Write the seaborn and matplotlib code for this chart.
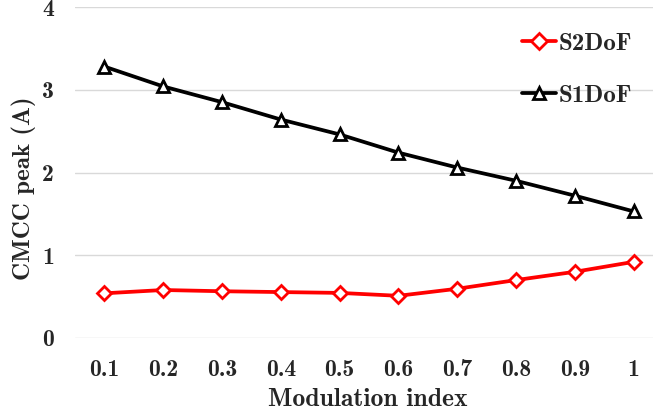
import matplotlib
matplotlib.use("Agg")
import matplotlib.pyplot as plt
import seaborn as sns
import pandas as pd

# Modulation index categories and CMCC peak currents (A)
mod_index = ["0.1", "0.2", "0.3", "0.4", "0.5", "0.6", "0.7", "0.8", "0.9", "1"]
s2dof = [0.54, 0.58, 0.565, 0.555, 0.545, 0.51, 0.595, 0.70, 0.80, 0.92]
s1dof = [3.28, 3.04, 2.85, 2.64, 2.46, 2.24, 2.06, 1.90, 1.72, 1.53]
y_ticks = [0, 1, 2, 3, 4]

df = pd.DataFrame({
    "Modulation index": mod_index * 2,
    "CMCC peak (A)": s2dof + s1dof,
    "Scheme": ["S2DoF"] * len(mod_index) + ["S1DoF"] * len(mod_index),
})

sns.set_theme(style="white")
plt.rcParams["font.family"] = ["cmb10", "DejaVu Serif"]
plt.rcParams["axes.unicode_minus"] = False

W, H = 653, 417
fig = plt.figure(figsize=(W / 100, H / 100), dpi=100)
ax = fig.add_axes([75 / W, (H - 338) / H, 588 / W, 331 / H])

sns.lineplot(
    data=df, x="Modulation index", y="CMCC peak (A)",
    hue="Scheme", style="Scheme",
    palette={"S2DoF": "#ff0000", "S1DoF": "#000000"},
    markers={"S2DoF": "D", "S1DoF": "^"},
    dashes=False, linewidth=2.7, markersize=8,
    markerfacecolor="white", markeredgewidth=2.0,
    ax=ax,
)
# white fill with coloured edges for markers
for line in ax.get_lines():
    c = line.get_color()
    line.set_markeredgecolor(c)
    line.set_markerfacecolor("white")
ax.get_lines()[0].set_markersize(7)
ax.get_lines()[1].set_markersize(9)

ax.set_xlim(-0.5, len(mod_index) - 0.5)
ax.set_ylim(0, 4)
ax.set_yticks(y_ticks)
ax.set_yticklabels([str(t) for t in y_ticks])
ax.yaxis.grid(True, color="#d9d9d9", linewidth=1.0)
ax.xaxis.grid(False)
for s in ax.spines.values():
    s.set_visible(False)
ax.tick_params(axis="both", length=0, labelsize=17)
ax.tick_params(axis="y", pad=15)
ax.tick_params(axis="x", pad=15)
ax.set_xlabel("Modulation index", fontsize=18.5)
ax.set_ylabel("CMCC peak (A)", fontsize=18)
# label placement in axes-fraction coordinates
ax.xaxis.set_label_coords((368 - 75) / 588, -(399 - 338) / 331, transform=ax.transAxes)
ax.yaxis.set_label_coords(-(75 - 24) / 588, (338 - 188) / 331, transform=ax.transAxes)
ax.xaxis.label.set_va("center")
ax.yaxis.label.set_va("center")

handles, labels = ax.get_legend_handles_labels()
ax.legend(
    handles, labels, loc="upper left",
    bbox_to_anchor=(522 / W, 1 - 32 / H), bbox_transform=fig.transFigure,
    frameon=False, fontsize=18, handlelength=1.35, handletextpad=0.12,
    labelspacing=1.2, borderpad=0, borderaxespad=0,
)

fig.savefig("out.png", dpi=100)
